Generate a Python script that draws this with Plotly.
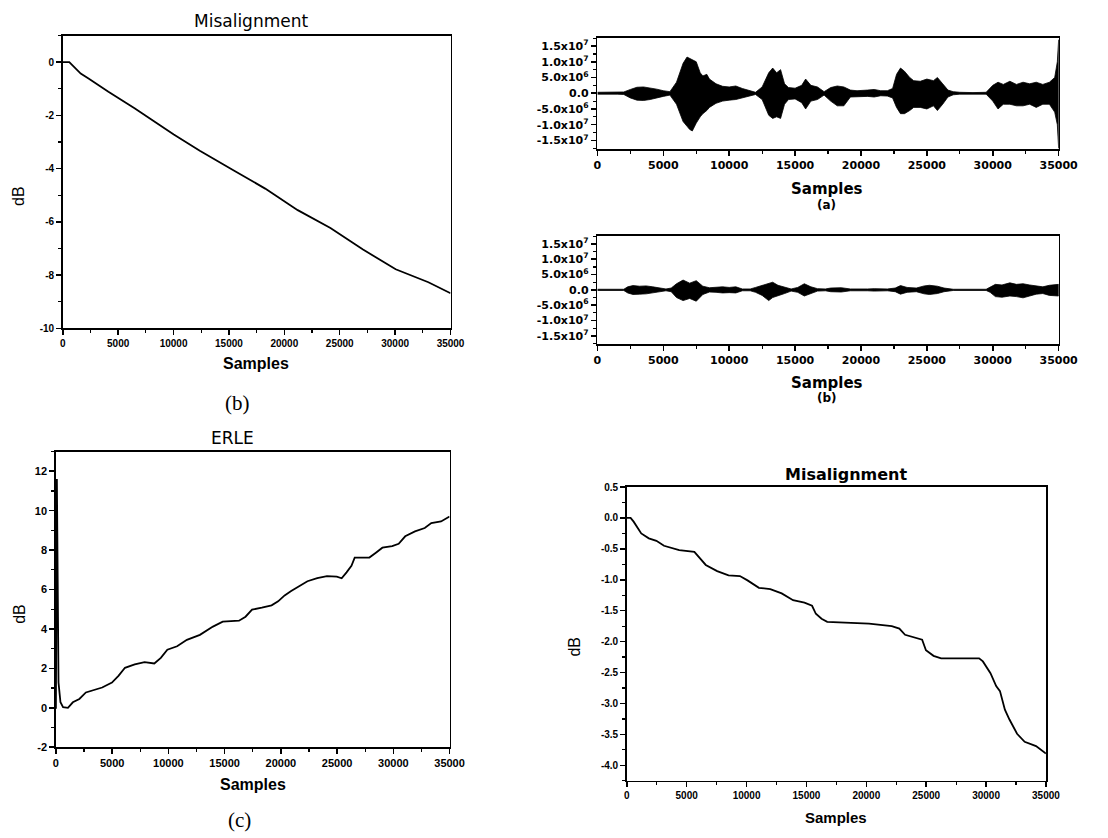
import plotly.graph_objects as go

W, H = 1108, 838

# ---------------- data ----------------
# Top-left: Misalignment (b)
mis1_x = [0, 300, 590, 1620, 2360, 4120, 6480, 10020, 12370, 15320, 18270,
          21210, 24160, 27100, 30050, 33000, 35000]
mis1_y = [0.0, 0.0, 0.0, -0.43, -0.62, -1.11, -1.73, -2.72, -3.33, -4.04, -4.75,
          -5.56, -6.23, -7.04, -7.78, -8.27, -8.68]

# Top-right (a): waveform envelope, units of 1e6
wa_x = [0, 500, 1000, 1500, 2000, 2500, 3000, 3500, 4000, 4500, 5000, 5500, 6000,
        6500, 6800, 7000, 7200, 7500, 7800, 8000, 8300, 8500, 9000, 9500, 10000,
        10500, 11000, 11500, 12000, 12500, 13000, 13300, 13600, 13900, 14200, 14500,
        15000, 15500, 15800, 16200, 16700, 17200, 17700, 18200, 18700, 19200, 19700,
        20500, 21000, 21500, 22000, 22400, 22700, 23000, 23300, 23700, 24000, 24500,
        25000, 25500, 25800, 26200, 26600, 27000, 27500, 28500, 29500, 30000, 30400,
        30800, 31300, 31800, 32300, 32800, 33300, 33800, 34300, 34700, 34900, 35000]
wa_up = [0.3, 0.3, 0.3, 0.3, 0.4, 1.2, 1.9, 2.0, 1.7, 1.3, 0.8, 0.5, 3.5,
         9.5, 11.5, 11.0, 10.5, 10.0, 6.5, 5.5, 6.0, 4.5, 3.0, 2.2, 2.0,
         2.3, 1.5, 1.0, 0.3, 2.0, 6.5, 8.0, 6.5, 7.5, 3.0, 1.8,
         1.6, 2.5, 4.5, 2.5, 2.0, 0.5, 1.8, 2.3, 2.0, 1.0, 0.8,
         1.0, 1.2, 0.8, 0.8, 1.5, 6.0, 8.0, 7.0, 5.0, 4.0, 3.8,
         4.5, 4.0, 5.0, 3.0, 1.0, 0.5, 0.3, 0.2, 0.3, 2.5, 3.5,
         2.8, 3.8, 2.8, 3.5, 3.0, 3.5, 2.8, 3.5, 5.0, 10.0, 17.0]
wa_lo = [-0.3, -0.3, -0.3, -0.3, -0.4, -1.5, -2.2, -2.3, -2.0, -1.6, -1.0, -0.6, -3.5,
         -9.0, -10.5, -11.5, -12.0, -9.5, -7.5, -6.5, -5.5, -4.5, -3.2, -2.5, -2.2,
         -2.0, -1.5, -1.0, -0.4, -2.0, -7.0, -8.0, -7.5, -8.0, -3.5, -2.0,
         -1.8, -3.0, -5.0, -2.5, -2.0, -0.6, -2.5, -4.0, -4.0, -1.2, -1.0,
         -1.0, -1.2, -0.8, -0.9, -1.5, -4.5, -6.5, -6.5, -5.5, -4.5, -4.5,
         -5.0, -4.0, -5.5, -3.5, -1.2, -0.5, -0.3, -0.2, -0.3, -2.5, -5.0,
         -3.5, -3.5, -4.0, -4.0, -3.5, -4.5, -3.5, -3.5, -6.0, -10.0, -17.5]

# Right (b): waveform envelope, units of 1e6
wb_x = [0, 2000, 2300, 2700, 3200, 3700, 4200, 4700, 5200, 5600, 6000, 6500, 7000,
        7500, 8000, 8500, 9000, 9500, 10000, 10500, 11000, 11600, 12000, 12500, 13000,
        13300, 13700, 14200, 14700, 15200, 15700, 16200, 16700, 17300, 17700, 18500,
        19200, 20500, 21000, 22000, 22600, 23000, 23500, 24200, 24800, 25200, 25800,
        26300, 27000, 29500, 29800, 30200, 30700, 31300, 31800, 32300, 32800, 33300,
        33800, 34300, 35000]
wb_up = [0.2, 0.2, 1.0, 1.4, 1.2, 1.3, 1.0, 0.6, 0.3, 0.6, 2.0, 3.2, 2.2,
         3.0, 1.2, 0.7, 0.8, 1.0, 0.8, 1.0, 0.3, 0.3, 0.8, 1.5, 2.0,
         2.5, 1.5, 1.0, 0.3, 0.8, 2.0, 1.0, 0.4, 0.3, 0.6, 0.7,
         0.3, 0.3, 0.4, 0.3, 0.6, 1.4, 0.8, 0.6, 1.3, 1.5, 1.2,
         0.6, 0.2, 0.2, 0.8, 1.8, 1.6, 2.3, 1.8, 2.0, 1.6, 1.2,
         1.0, 1.5, 1.8]
wb_lo = [-0.2, -0.2, -1.0, -1.5, -1.4, -1.3, -1.1, -0.6, -0.3, -0.6, -2.5, -3.5, -2.8,
         -3.7, -1.5, -0.7, -0.8, -1.0, -0.9, -1.0, -0.3, -0.3, -0.8, -1.8, -3.5,
         -2.5, -2.0, -1.2, -0.4, -0.8, -2.0, -1.2, -0.4, -0.3, -0.6, -0.7,
         -0.3, -0.3, -0.4, -0.3, -0.6, -1.4, -0.8, -0.6, -1.3, -1.5, -1.2,
         -0.6, -0.2, -0.2, -0.8, -2.2, -2.4, -2.0, -2.2, -2.6, -2.0, -1.4,
         -1.2, -1.8, -2.0]

# Bottom-left: ERLE (c)
erle_x = [0, 87, 232, 406, 637, 1071, 1506, 2086, 2665, 3534, 4114, 4983, 5562, 6142,
          7011, 7880, 8750, 9329, 9908, 10777, 11646, 12805, 13964, 14833, 15702,
          16281, 16861, 17440, 18309, 19178, 19758, 20337, 20917, 21786, 22365, 23235,
          24104, 24973, 25408, 25842, 26277, 26567, 27001, 27870, 28450, 29029, 29898,
          30477, 31057, 31926, 32795, 33375, 34244, 35000]
erle_y = [-0.05, 11.6, 1.28, 0.28, 0.03, 0.0, 0.28, 0.45, 0.78, 0.95, 1.03, 1.28, 1.62, 2.03,
          2.2, 2.32, 2.25, 2.53, 2.95, 3.12, 3.45, 3.7, 4.12, 4.37, 4.42,
          4.42, 4.62, 4.98, 5.08, 5.2, 5.4, 5.7, 5.92, 6.2, 6.42, 6.58,
          6.68, 6.65, 6.57, 6.87, 7.2, 7.62, 7.62, 7.62, 7.87, 8.12, 8.2,
          8.32, 8.7, 8.95, 9.12, 9.37, 9.45, 9.7]

# Bottom-right: Misalignment
mis2_x = [0, 317, 570, 1205, 1839, 2473, 3107, 4375, 5643, 6594, 7545, 8496, 9447,
          10080, 11032, 11983, 12935, 13886, 14837, 15471, 15788, 16264, 16739, 18641,
          20225, 22128, 22762, 23237, 24030, 24664, 24981, 25615, 26250, 29420, 29737,
          30371, 30846, 31163, 31575, 31956, 32590, 33224, 34175, 35000]
mis2_y = [0.0, 0.0, -0.06, -0.25, -0.33, -0.37, -0.45, -0.52, -0.55, -0.76, -0.86, -0.93, -0.94,
          -1.01, -1.13, -1.15, -1.22, -1.33, -1.37, -1.42, -1.55, -1.63, -1.68, -1.70,
          -1.71, -1.75, -1.79, -1.89, -1.93, -1.97, -2.14, -2.23, -2.27, -2.27, -2.32,
          -2.51, -2.72, -2.80, -3.10, -3.26, -3.49, -3.62, -3.69, -3.81]

x_ticks = [0, 5000, 10000, 15000, 20000, 25000, 30000, 35000]
wave_ticks = [-1.5e7, -1.0e7, -5e6, 0, 5e6, 1.0e7, 1.5e7]
wave_tick_text = ["-1.5x10<sup>7</sup>", "-1.0x10<sup>7</sup>", "-5.0x10<sup>6</sup>", "0.0",
                  "5.0x10<sup>6</sup>", "1.0x10<sup>7</sup>", "1.5x10<sup>7</sup>"]
mis1_ticks = [-10, -8, -6, -4, -2, 0]
erle_ticks = [-2, 0, 2, 4, 6, 8, 10, 12]
mis2_ticks = [0.5, 0.0, -0.5, -1.0, -1.5, -2.0, -2.5, -3.0, -3.5, -4.0]
mis2_tick_text = ["0.5", "0.0", "-0.5", "-1.0", "-1.5", "-2.0", "-2.5", "-3.0", "-3.5", "-4.0"]

# ---------------- layout helpers ----------------
SANS = "Liberation Sans, Arial, sans-serif"
DEJA = "DejaVu Sans, sans-serif"
SERIF = "Liberation Serif, Times New Roman, serif"


def xdom(x0, x1):
    return [x0 / W, x1 / W]


def ydom(top, bottom):
    return [1 - bottom / H, 1 - top / H]


def axis(domain, rng, tickvals, ticktext, minor_dtick, font, anchor):
    return dict(domain=domain, range=rng, anchor=anchor,
                showline=True, linecolor="black", linewidth=1.6, mirror=True,
                ticks="outside", ticklen=5, tickwidth=1.5, tickcolor="black",
                tickmode="array", tickvals=tickvals, ticktext=ticktext,
                tickfont=font, showgrid=False, zeroline=False,
                minor=dict(ticks="outside", ticklen=3, tickwidth=1.2, tickcolor="black",
                           dtick=minor_dtick, tick0=0, showgrid=False),
                fixedrange=True)


f10 = dict(family=SANS, size=10, color="black", weight="bold")
f11 = dict(family=SANS, size=11, color="black", weight="bold")
fwx = dict(family=DEJA, size=11, color="black", weight="bold")
fwy = dict(family=DEJA, size=11, color="black", weight="bold")

fig = go.Figure()

line = dict(color="black", width=1.8)
fig.add_trace(go.Scatter(x=mis1_x, y=mis1_y, mode="lines", line=line, xaxis="x", yaxis="y"))

fig.add_trace(go.Scatter(x=wa_x + wa_x[::-1],
                         y=[v * 1e6 for v in wa_up] + [v * 1e6 for v in wa_lo[::-1]],
                         mode="lines", fill="toself", fillcolor="black",
                         line=dict(color="black", width=0.8), xaxis="x2", yaxis="y2"))
fig.add_trace(go.Scatter(x=wb_x + wb_x[::-1],
                         y=[v * 1e6 for v in wb_up] + [v * 1e6 for v in wb_lo[::-1]],
                         mode="lines", fill="toself", fillcolor="black",
                         line=dict(color="black", width=0.8), xaxis="x3", yaxis="y3"))
fig.add_trace(go.Scatter(x=erle_x, y=erle_y, mode="lines", line=line, xaxis="x4", yaxis="y4"))
fig.add_trace(go.Scatter(x=mis2_x, y=mis2_y, mode="lines", line=line, xaxis="x5", yaxis="y5"))

xt = [str(v) for v in x_ticks]
layout = dict(
    width=W, height=H, margin=dict(l=0, r=0, t=0, b=0),
    paper_bgcolor="white", plot_bgcolor="white", showlegend=False,
    # top-left
    xaxis=axis(xdom(60, 456), [0, 35000], x_ticks, xt, 2500, f10, "y"),
    yaxis=axis(ydom(30, 327), [-10, 1], mis1_ticks, [str(v) for v in mis1_ticks], 1, f10, "x"),
    # top-right (a)
    xaxis2=axis(xdom(606, 1077), [0, 35000], x_ticks, xt, 2500, fwx, "y2"),
    yaxis2=axis(ydom(32, 145), [-1.77e7, 1.77e7], wave_ticks, wave_tick_text, 2.5e6, fwy, "x2"),
    # right (b)
    xaxis3=axis(xdom(606, 1077), [0, 35000], x_ticks, xt, 2500, fwx, "y3"),
    yaxis3=axis(ydom(233, 343), [-1.77e7, 1.77e7], wave_ticks, wave_tick_text, 2.5e6, fwy, "x3"),
    # bottom-left ERLE
    xaxis4=axis(xdom(53, 455), [0, 35000], x_ticks, xt, 2500, f11, "y4"),
    yaxis4=axis(ydom(452, 752), [-2, 13], erle_ticks, [str(v) for v in erle_ticks], 1, f11, "x4"),
    # bottom-right Misalignment
    xaxis5=axis(xdom(636, 1064), [0, 35000], x_ticks, xt, 2500, f10, "y5"),
    yaxis5=axis(ydom(488, 786), [-4.25, 0.5], mis2_ticks, mis2_tick_text, 0.25, f10, "x5"),
)


def ann(text, x, y, size, family=SANS, weight="normal", angle=0):
    return dict(text=text, x=x / W, y=1 - y / H, xref="paper", yref="paper",
                xanchor="center", yanchor="middle", showarrow=False, textangle=angle,
                font=dict(family=family, size=size, color="black", weight=weight))


layout["annotations"] = [
    ann("Misalignment", 252, 15, 17, DEJA),
    ann("Samples", 257, 363, 16, SANS, "bold"),
    ann("dB", 15, 193, 16, SANS, angle=-90),
    ann("(b)", 238, 403, 21, SERIF),
    ann("Samples", 840, 186, 15, DEJA, "bold"),
    ann("(a)", 840, 202, 12, DEJA, "bold"),
    ann("Samples", 840, 382, 15, DEJA, "bold"),
    ann("(b)", 840, 398, 12, DEJA, "bold"),
    ann("ERLE", 233, 438, 17, DEJA),
    ann("Samples", 254, 790, 16, SANS, "bold"),
    ann("dB", 15, 617, 16, SANS, angle=-90),
    ann("(c)", 240, 826, 21, SERIF),
    ann("Misalignment", 860, 475, 16, DEJA, "bold"),
    ann("Samples", 850, 823, 15, SANS, "bold"),
    ann("dB", 583, 650, 16, SANS, angle=-90),
]

fig.update_layout(**layout)
fig.write_html("out.html", config={"displayModeBar": False, "staticPlot": True},
               post_script="document.body.style.margin='0px';document.body.style.overflow='hidden';")
